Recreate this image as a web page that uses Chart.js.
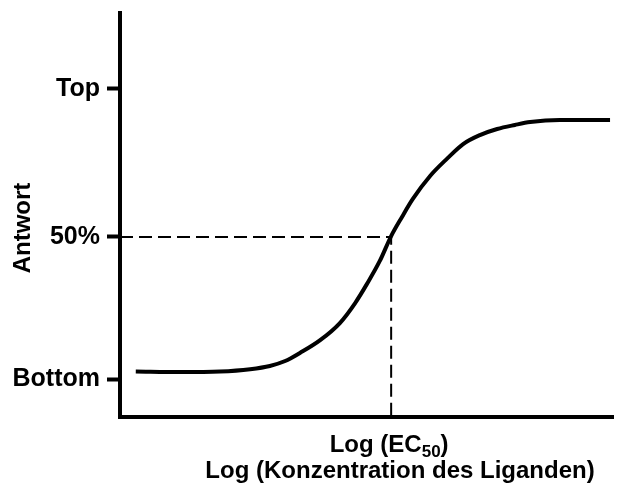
<!DOCTYPE html>
<html>
<head>
<meta charset="utf-8">
<script src="https://cdn.jsdelivr.net/npm/chart.js@4.4.0/dist/chart.umd.min.js"></script>
<style>
  html, body { margin: 0; padding: 0; background: #fff; }
</style>
</head>
<body>
<canvas id="chart" width="620" height="494"></canvas>
<script>
// Dosis-Wirkungs-Kurve (Schema) – Werte aus dem Bild abgelesen
// x: Log(Konzentration), beliebige Einheiten 0..10
const logConc = [0.32, 1.22, 2.03, 2.64, 3.04, 3.35, 3.65, 4.06, 4.46, 4.77, 5.01, 5.27, 5.50, 5.72, 5.94, 6.29, 6.63, 6.96, 7.30, 7.65, 8.01, 8.32, 8.92, 9.94];
// y: Antwort, Bottom = 0, Top = 100
const response = [2.6, 2.4, 2.6, 3.4, 4.5, 6.2, 9.0, 13.4, 19.3, 26.2, 32.8, 40.7, 49.3, 55.9, 62.1, 70.0, 75.9, 81.0, 84.1, 86.2, 87.6, 88.6, 89.3, 89.3];

const yTickValues = [0, 49, 100];
const yTickLabels = ['Bottom', '50%', 'Top'];

const ec50 = 5.5;
const halfResponse = 49;

const xMin = 0, xMax = 10;
const yMin = -13.1, yMax = 126.2;

const FONT = "'Liberation Sans', Arial, sans-serif";

const curve = logConc.map((x, i) => ({ x, y: response[i] }));
// Hilfslinien: waagrecht von der Achse bis EC50, dann senkrecht bis zur x-Achse
const guide = [
  { x: xMin, y: halfResponse },
  { x: ec50, y: halfResponse },
  { x: ec50, y: yMin }
];

// Achsentitel: "Antwort" (gedreht), "Log (EC50)" mit tiefgestelltem 50 + zweite Zeile
const labelPlugin = {
  id: 'axisLabels',
  afterDraw(chart) {
    const { ctx } = chart;
    ctx.save();
    ctx.fillStyle = '#000';

    // y-Titel
    ctx.save();
    ctx.translate(23, 228);
    ctx.rotate(-Math.PI / 2);
    ctx.textAlign = 'center';
    ctx.textBaseline = 'middle';
    ctx.font = `bold 24px ${FONT}`;
    ctx.fillText('Antwort', 0, 0);
    ctx.restore();

    ctx.textBaseline = 'alphabetic';
    ctx.textAlign = 'left';
    const cx = chart.scales.x.getPixelForValue(ec50) - 2;
    const big = `bold 24px ${FONT}`;
    const small = `bold 17px ${FONT}`;
    ctx.font = big;
    const w1 = ctx.measureText('Log (EC').width;
    const w3 = ctx.measureText(')').width;
    ctx.font = small;
    const w2 = ctx.measureText('50').width;
    let x = cx - (w1 + w2 + w3) / 2;
    const base = 452;
    ctx.font = big;
    ctx.fillText('Log (EC', x, base);
    x += w1;
    ctx.font = small;
    ctx.fillText('50', x, base + 5);
    x += w2;
    ctx.font = big;
    ctx.fillText(')', x, base);

    ctx.textAlign = 'center';
    ctx.fillText('Log (Konzentration des Liganden)', 400, 478);
    ctx.restore();
  }
};

new Chart(document.getElementById('chart'), {
  type: 'line',
  data: {
    datasets: [
      {
        data: curve,
        borderColor: '#000',
        borderWidth: 4,
        pointRadius: 0,
        cubicInterpolationMode: 'monotone',
        fill: false
      },
      {
        data: guide,
        borderColor: '#000',
        borderWidth: 2,
        borderDash: [13, 6],
        pointRadius: 0,
        tension: 0,
        fill: false
      }
    ]
  },
  options: {
    responsive: false,
    devicePixelRatio: 1,
    animation: false,
    layout: { autoPadding: false, padding: { top: 13, right: 7, left: 0, bottom: 0 } },
    plugins: {
      legend: { display: false },
      tooltip: { enabled: false }
    },
    scales: {
      x: {
        type: 'linear',
        min: xMin,
        max: xMax,
        afterFit(scale) { scale.height = 77; },
        ticks: { display: false },
        grid: { display: true, drawOnChartArea: false, drawTicks: false },
        border: { display: true, color: '#000', width: 4 }
      },
      y: {
        type: 'linear',
        min: yMin,
        max: yMax,
        afterFit(scale) {
          scale.width = 120;
          scale.paddingTop = 0;
          scale.paddingBottom = 0;
        },
        afterBuildTicks(scale) {
          scale.ticks = yTickValues.map(v => ({ value: v }));
        },
        ticks: {
          color: '#000',
          padding: 7,
          font: { family: FONT, size: 25, weight: 'bold', lineHeight: 0.4 },
          callback: (value) => yTickLabels[yTickValues.indexOf(value)]
        },
        grid: {
          display: true,
          drawOnChartArea: false,
          drawTicks: true,
          tickLength: 13,
          tickWidth: 4,
          tickColor: '#000'
        },
        border: { display: true, color: '#000', width: 4 }
      }
    }
  },
  plugins: [labelPlugin]
});
</script>
</body>
</html>
